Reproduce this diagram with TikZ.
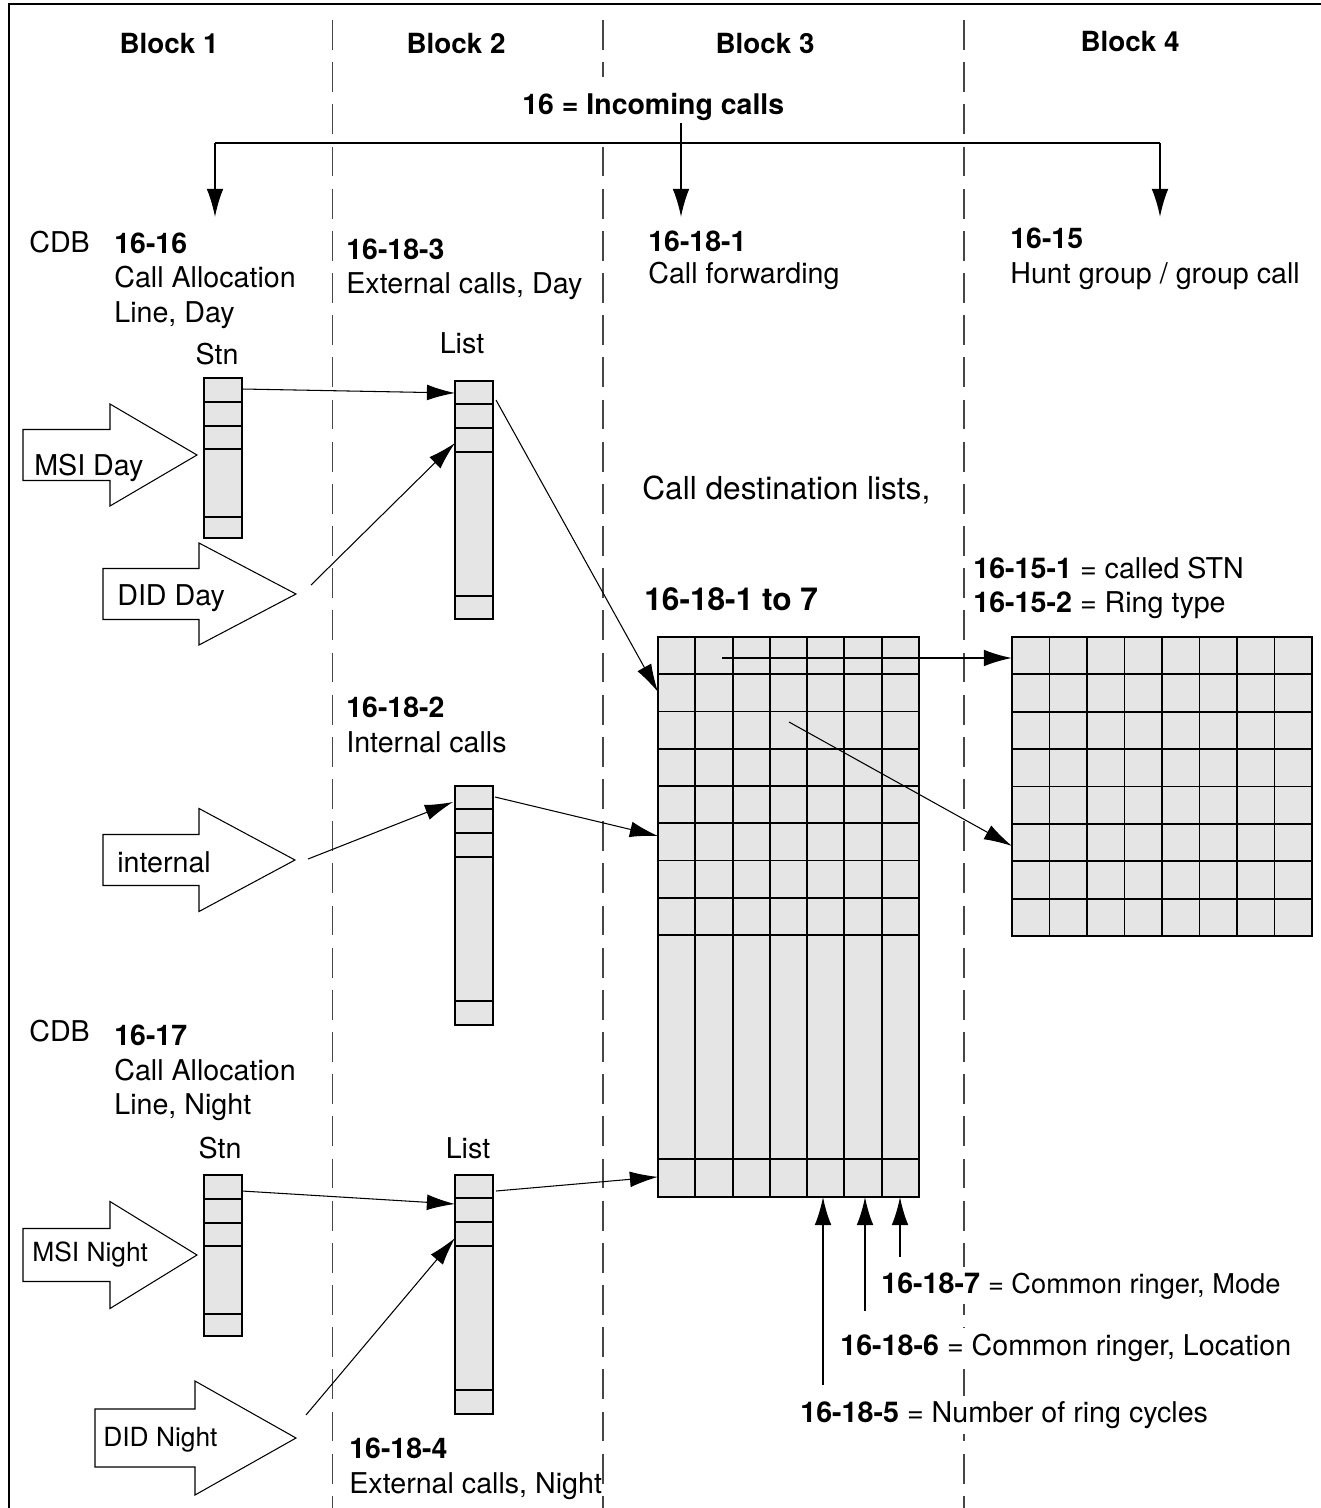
\documentclass[tikz,border=0pt]{standalone}
\usepackage{fontspec}
\setmainfont{TeX Gyre Heros}
\usetikzlibrary{arrows.meta, positioning, calc}
\definecolor{cellgray}{RGB}{229,229,229}
\definecolor{sepgray}{RGB}{70,70,70}
\tikzset{
  ttl/.style={font=\fontsize{15.8}{18}\selectfont\bfseries, inner sep=0pt, anchor=base},
  code/.style={font=\fontsize{16.2}{19}\selectfont\bfseries, fill=white,
               inner xsep=0pt, inner ysep=3pt, anchor=base west},
  txt/.style={font=\fontsize{16.3}{19}\selectfont, fill=white,
              inner xsep=0pt, inner ysep=3pt, anchor=base west},
  colbox/.style={draw, line width=1pt, fill=cellgray, minimum width=0.76cm,
                 inner sep=0pt, outer sep=0pt, anchor=north west},
  gridbox/.style={draw, line width=1.1pt, fill=cellgray, inner sep=0pt,
                  outer sep=0pt, anchor=north west},
  inarrow/.style={draw, line width=0.6pt, fill=white, line join=miter},
  link/.style={-{Latex[length=16pt, width=9pt]}, line width=0.6pt},
  feed/.style={-{Latex[length=16pt, width=9.5pt]}, line width=1.1pt},
  divider/.style={line width=1.5pt},
  blockline/.style={sepgray, line width=0.6pt, dash pattern=on 17pt off 7pt},
}

\begin{document}
\begin{tikzpicture}[x=0.02cm, y=-0.02cm]
  \useasboundingbox (0,0) rectangle (1321,1508);
  \draw[line width=0.8pt] (9,1508) -- (9,4) -- (1321,4);
  \foreach \x in {332.5, 603, 964}
    \draw[blockline] (\x,20) -- (\x,1508);
  \foreach \n/\x/\y in {1/169/53, 2/456/53, 3/765/53, 4/1130/51}
    \node[ttl] (blk\n) at (\x,\y) {Block \n};

  % distribution from parameter 16
  \node[code, inner ysep=9pt] (inc) at (522,114) {16 = Incoming calls};
  \coordinate (busL) at (215,143);
  \coordinate (busR) at (1160,143);
  \coordinate (busM) at (681,123);
  \coordinate (tipA) at (215,217);
  \coordinate (tipB) at (681,217);
  \coordinate (tipC) at (1160,217);
  \draw[line width=1.1pt] (busL) -- (busR);
  \draw[feed] (busL) -- (tipA);
  \draw[feed] (busM) -- (tipB);
  \draw[feed] (busR) -- (tipC);

  % headings of the blocks
  \node[txt] (cdbD) at (29,252) {CDB};
  \node[code] (p1616) at (114,253) {16-16};
  \node[txt] (p1616a) at (114,287) {Call Allocation};
  \node[txt] (p1616b) at (114,322) {Line, Day};
  \node[code] (p16183) at (346,259) {16-18-3};
  \node[txt] (p16183a) at (346,293) {External calls, Day};
  \node[code] (p16181) at (648,251) {16-18-1};
  \node[txt] (p16181a) at (648,283) {Call forwarding};
  \node[code] (p1615) at (1010,248) {16-15};
  \node[txt] (p1615a) at (1010,283) {Hunt group / group call};

  % incoming sources
  \foreach \nm/\xa/\xb/\xc/\ym/\sh/\hh in {msiD/23/110/197/455/25.5/51,
      didD/103/199/296/594/25.5/51, intl/103/199/295/860/25.5/51.5,
      msiN/23/110/197/1255/26.5/53.5, didN/95/195/296/1438/29/57} {
    \draw[inarrow] (\xa,\ym-\sh) -- (\xb,\ym-\sh) -- (\xb,\ym-\hh) -- (\xc,\ym)
      -- (\xb,\ym+\hh) -- (\xb,\ym+\sh) -- (\xa,\ym+\sh) -- cycle;
    \coordinate (\nm) at (\xc,\ym);
  }
  \node[txt, fill=none] (msiDt) at (34,475) {MSI Day};
  \node[txt, fill=none] (didDt) at (117,605) {DID Day};
  \node[txt, fill=none] (intlt) at (117,872) {internal};
  \node[txt, fill=none, font=\fontsize{15}{18}\selectfont] (msiNt) at (32,1261) {MSI Night};
  \node[txt, fill=none, font=\fontsize{15}{18}\selectfont] (didNt) at (103,1446) {DID Night};

  % station and list columns
  \node[txt, anchor=base] (stnDt) at (217,364) {Stn};
  \node[txt, anchor=base] (listDt) at (462,353) {List};
  \node[colbox, minimum height=3.2cm] (stnD) at (204,378) {};
  \node[colbox, minimum height=4.76cm] (listD) at (455,381) {};
  \node[colbox, minimum height=4.78cm] (listI) at (455,786) {};
  \node[txt, anchor=base] (stnNt) at (220,1158) {Stn};
  \node[txt, anchor=base] (listNt) at (468,1158) {List};
  \node[colbox, minimum height=3.22cm] (stnN) at (204,1175) {};
  \node[colbox, minimum height=4.78cm] (listN) at (455,1175) {};
  \foreach \b in {stnD, stnN} {
    \foreach \d in {24, 48, 71}
      \draw[divider] ($(\b.north west)+(0,\d)$) -- ($(\b.north east)+(0,\d)$);
    \draw[line width=0.9pt] ($(\b.north west)+(0,139)$) -- ($(\b.north east)+(0,139)$);
  }
  \foreach \b in {listD, listI, listN}
    \foreach \d in {23, 47, 71, 215}
      \draw[divider] ($(\b.north west)+(0,\d)$) -- ($(\b.north east)+(0,\d)$);

  \node[code] (p16182) at (346,717) {16-18-2};
  \node[txt] (p16182a) at (346,752) {Internal calls};
  \node[txt] (cdbN) at (29,1041) {CDB};
  \node[code] (p1617) at (114,1045) {16-17};
  \node[txt] (p1617a) at (114,1080) {Call Allocation};
  \node[txt] (p1617b) at (114,1114) {Line, Night};
  \node[code] (p16184) at (349,1458) {16-18-4};
  \node[txt] (p16184a) at (349,1493) {External calls, Night};

  % call destination lists
  \node[txt, font=\fontsize{18}{21}\selectfont] (cdl) at (642,499) {Call destination lists,};
  \node[code, font=\fontsize{18}{21}\selectfont\bfseries] (cdlnum) at (644,610) {16-18-1 to 7};
  \node[gridbox, minimum width=5.22cm, minimum height=11.2cm] (dest) at (658,637) {};
  \foreach \i in {1,...,6}
    \draw[line width=1.1pt] ($(dest.north west)+(\i*37.29,0)$) -- ($(dest.south west)+(\i*37.29,0)$);
  \foreach \j in {1,...,8}
    \draw[line width=1.1pt] ($(dest.north west)+(0,\j*37.25)$) -- ($(dest.north east)+(0,\j*37.25)$);
  \draw[line width=1.1pt] ($(dest.south west)+(0,-38)$) -- ($(dest.south east)+(0,-38)$);

  % hunt group table
  \node[txt] (p16151) at (973,578) {\textbf{16-15-1} = called STN};
  \node[txt] (p16152) at (973,612) {\textbf{16-15-2} = Ring type};
  \node[gridbox, minimum width=6cm, minimum height=5.98cm] (hunt) at (1012,637) {};
  \foreach \i in {1,...,7}
    \draw[line width=1.1pt] ($(hunt.north west)+(\i*37.5,0)$) -- ($(hunt.south west)+(\i*37.5,0)$);
  \foreach \j in {1,...,7}
    \draw[line width=1.1pt] ($(hunt.north west)+(0,\j*37.375)$) -- ($(hunt.north east)+(0,\j*37.375)$);

  % connectors
  \draw[link] ($(stnD.north east)+(0,11)$) -- ($(listD.north west)+(0,12)$);
  \draw[link] ($(didD)+(15,-9)$) -- ($(listD.north west)+(0,62)$);
  \draw[link] ($(listD.north east)+(3,19)$) -- ($(dest.north west)+(0,55)$);
  \draw[link] ($(intl)+(13,-1)$) -- ($(listI.north west)+(-2,16)$);
  \draw[link] ($(listI.north east)+(2,11)$) -- ($(dest.north west)+(0,199)$);
  \draw[link] ($(stnN.north east)+(0,16)$) -- ($(listN.north west)+(0,29)$);
  \draw[link] ($(didN)+(10,-23)$) -- ($(listN.north west)+(0,63)$);
  \draw[link] ($(listN.north east)+(3,16)$) -- ($(dest.south west)+(0,-20)$);
  \draw[feed] ($(dest.north west)+(64,21)$) -- ($(hunt.north west)+(0,21)$);
  \draw[link] ($(dest.north west)+(131,85)$) -- ($(hunt.north west)+(0,209)$);

  % ringer parameters
  \coordinate (r5) at (823,1385);
  \coordinate (r6) at (865,1311);
  \coordinate (r7) at (900,1257);
  \foreach \r in {r5, r6, r7}
    \draw[feed] (\r) -- (\r |- dest.south);
  \node[txt] (ring7) at (881,1293) {\textbf{16-18-7} {\fontsize{15.5}{18}\selectfont = Common ringer, Mode}};
  \node[txt] (ring6) at (840,1355) {\textbf{16-18-6} = Common ringer, Location};
  \node[txt] (ring5) at (800,1422) {\textbf{16-18-5} = Number of ring cycles};
\end{tikzpicture}
\end{document}
